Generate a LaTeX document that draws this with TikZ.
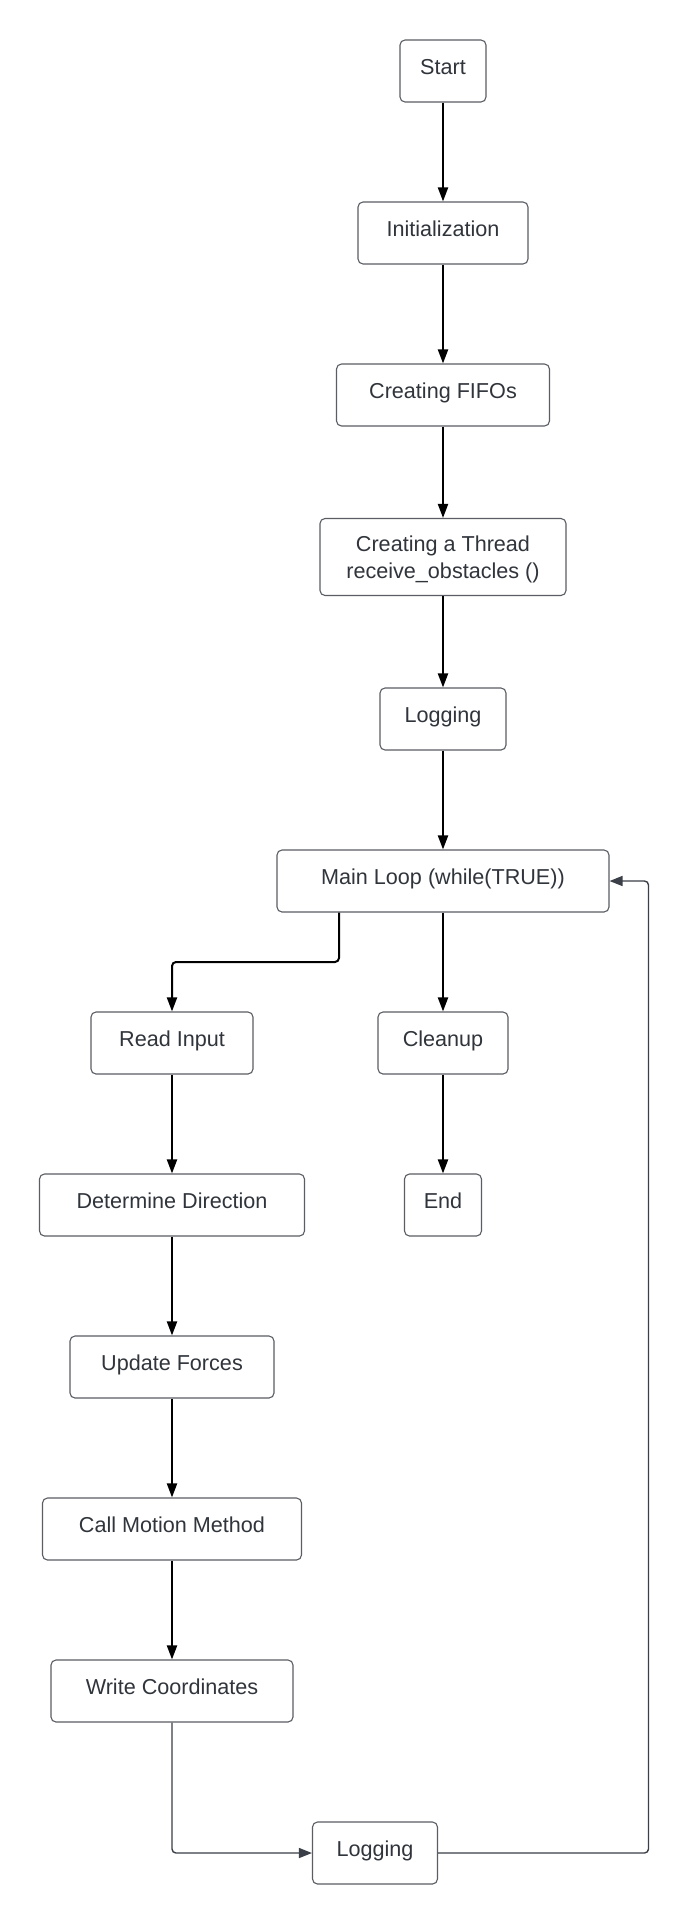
\documentclass[tikz,border=0pt]{standalone}
\usepackage{fontspec}
\setmainfont{Liberation Sans}
\usetikzlibrary{arrows.meta,calc}
\definecolor{txt}{HTML}{30343B}
\definecolor{bord}{HTML}{5A5D63}
\definecolor{gline}{HTML}{3A3F48}
\begin{document}
\begin{tikzpicture}[x=1pt,y=-1pt,
  basebox/.style={draw=bord, line width=1.1pt, rounded corners=5pt, text=txt, inner sep=0pt,
    font=\fontsize{21.6}{27}\selectfont, align=center, minimum height=62pt},
  box/.style={basebox, text height=16pt, text depth=8.8pt},
  arr/.style={draw=black, line width=2pt, -{Triangle[length=14pt,width=10pt]}},
  garr/.style={draw=gline, line width=1.4pt, rounded corners=4pt, -{Triangle[length=13pt,width=10pt]}}]
\useasboundingbox (0,0) rectangle (691,1924);
\fill[white] (0,0) rectangle (691,1924);
\node[box, minimum width=86pt] (start) at (443,71) {Start};
\node[box, minimum width=170pt] (init) at (443,233) {Initialization};
\node[box, minimum width=213pt] (fifo) at (443,395) {Creating FIFOs};
\node[basebox, text depth=0pt, minimum width=246pt, minimum height=77pt] (thread) at (443,557) {Creating a Thread\\receive\_obstacles ()};
\node[box, minimum width=126pt] (log1) at (443,719) {Logging};
\node[box, minimum width=332pt] (main) at (443,881) {Main Loop (while(TRUE))};
\node[box, minimum width=162pt] (read) at (172,1043) {Read Input};
\node[box, minimum width=130pt] (clean) at (443,1043) {Cleanup};
\node[box, minimum width=265pt] (dir) at (172,1205) {Determine Direction};
\node[box, minimum width=77pt] (end) at (443,1205) {End};
\node[box, minimum width=204pt] (upd) at (172,1367) {Update Forces};
\node[box, minimum width=259pt] (call) at (172,1529) {Call Motion Method};
\node[box, minimum width=242pt] (write) at (172,1691) {Write Coordinates};
\node[box, minimum width=125pt] (log2) at (375,1853) {Logging};
\coordinate (k1) at (339,962);
\coordinate (k2) at (648.5,1852);
\draw[arr] (start) -- (init);
\draw[arr] (init) -- (fifo);
\draw[arr] (fifo) -- (thread);
\draw[arr] (thread) -- (log1);
\draw[arr] (log1) -- (main);
\draw[arr] (main) -- (clean);
\draw[arr] (clean) -- (end);
\draw[arr, rounded corners=4pt] (main.south -| k1) -- (k1) -| (read.north);
\draw[arr] (read) -- (dir);
\draw[arr] (dir) -- (upd);
\draw[arr] (upd) -- (call);
\draw[arr] (call) -- (write);
\draw[garr] (write.south) |- (log2.west);
\draw[garr] (log2.east) -- (log2.east -| k2) -- (main.east -| k2) -- (main.east);
\end{tikzpicture}
\end{document}
